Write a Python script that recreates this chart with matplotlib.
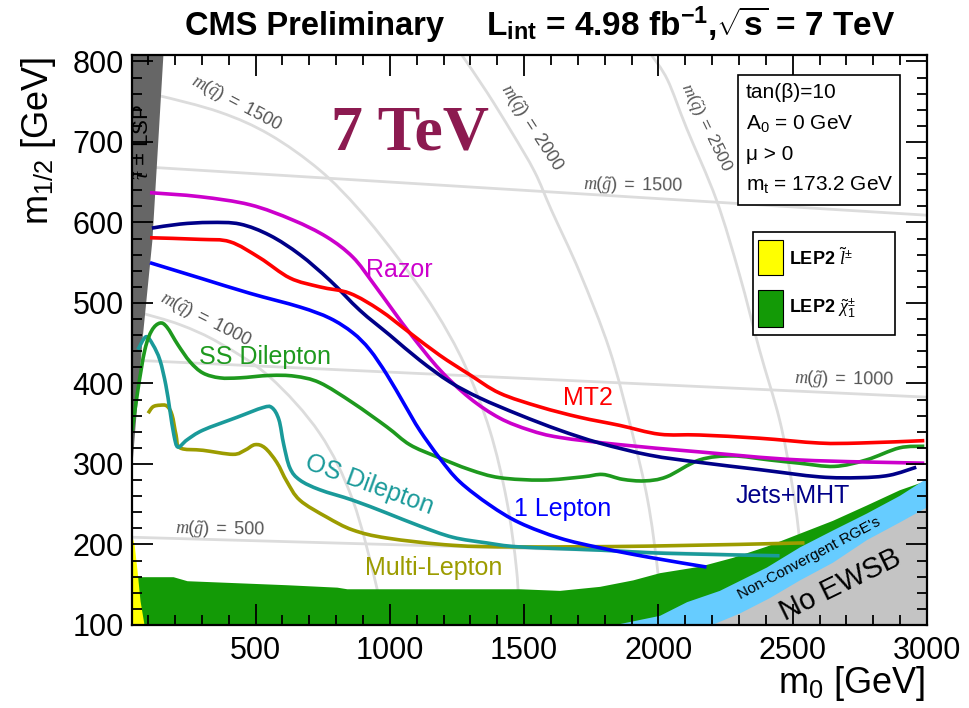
import matplotlib
matplotlib.use("Agg")
import matplotlib.pyplot as plt
from matplotlib.path import Path
from matplotlib.patches import PathPatch

plt.rcParams.update({
    'font.family': ['Liberation Sans', 'DejaVu Sans'],
    'mathtext.fontset': 'custom',
    'mathtext.rm': 'Liberation Sans',
    'mathtext.sf': 'Liberation Sans',
    'mathtext.it': 'Liberation Serif:italic',
    'mathtext.bf': 'Liberation Sans:bold',
})

# ---------------- exclusion contours (m0, m1/2) in GeV ----------------
razor_m0 = [107, 293, 479, 639, 765, 862, 937, 1011, 1085, 1186, 1297, 1409, 1521, 1632, 1855, 2153,
            2525, 2990]
razor_m12 = [637, 632, 622, 603, 582, 557, 525, 491, 458, 417, 382, 357, 342, 333, 324, 315,
             305, 301]

jets_m0 = [114, 219, 330, 442, 553, 665, 777, 888, 1000, 1111, 1223, 1335, 1483, 1632, 1781, 1967,
           2153, 2376, 2599, 2748, 2860, 2960]
jets_m12 = [593, 598, 600, 598, 584, 560, 528, 491, 460, 429, 402, 382, 361, 342, 326, 311,
            302, 293, 284, 283, 286, 296]

mt2_m0 = [107, 293, 405, 516, 628, 739, 851, 963, 1074, 1186, 1297, 1409, 1558, 1707, 1855, 2004,
          2153, 2376, 2599, 2748, 2990]
mt2_m12 = [581, 579, 576, 556, 531, 520, 512, 491, 463, 435, 411, 388, 371, 358, 348, 337,
           336, 332, 326, 326, 329]

lep1_m0 = [107, 293, 479, 665, 777, 862, 925, 989, 1056, 1111, 1186, 1260, 1372, 1483, 1632, 1781,
           1967, 2179]
lep1_m12 = [550, 531, 512, 495, 481, 463, 442, 411, 373, 342, 307, 278, 249, 227, 208, 196,
            184, 172]

ss_m0 = [40, 62, 88, 114, 144, 170, 211, 256, 304, 367, 442, 553, 646, 739, 862, 989, 1074, 1175,
         1297, 1409, 1569, 1718, 1792, 1866, 1948, 2030, 2153, 2276, 2414, 2525, 2655, 2774, 2897, 2990]
ss_m12 = [340, 392, 442, 466, 475, 470, 448, 427, 413, 407, 407, 410, 409, 401, 376, 346, 324, 309,
          293, 283, 280, 284, 287, 281, 279, 284, 305, 310, 305, 301, 297, 305, 320, 322]

os_m0 = [62, 92, 118, 144, 166, 181, 196, 211, 245, 304, 431, 527, 561, 587, 605, 628, 665, 739,
         862, 989, 1111, 1234, 1360, 1483, 1781, 2030, 2451]
os_m12 = [442, 458, 448, 429, 398, 367, 336, 321, 330, 342, 358, 370, 370, 355, 324, 295, 280, 268,
          255, 239, 223, 209, 202, 197, 193, 189, 186]

ml_m0 = [100, 118, 144, 170, 189, 204, 219, 304, 416, 460, 498, 535, 579, 617, 665, 765, 862, 989,
         1234, 1483, 1967, 2544]
ml_m12 = [363, 371, 373, 372, 361, 336, 320, 317, 312, 317, 324, 320, 302, 278, 255, 234, 218, 208,
          199, 197, 198, 202]

# ---------------- theory / LEP regions ----------------
chi_m0 = [40, 193, 245, 617, 803, 840, 1483, 1632, 1781, 1904, 2004, 2153, 2276, 2402, 2525, 2648,
          2774, 2897, 3000]
chi_m12 = [160, 160, 155, 150, 147, 145, 145, 143, 148, 156, 165, 173, 184, 198, 214, 230,
           249, 268, 280]

rge_m0 = [1829, 2004, 2105, 2227, 2402, 2525, 2648, 2774, 2897, 3000]
rge_m12 = [100, 112, 129, 143, 172, 197, 218, 239, 261, 283]

ewsb_m0 = [2194, 2302, 2413, 2525, 2648, 2774, 2897, 3000]
ewsb_m12 = [100, 115, 134, 156, 178, 206, 228, 247]

stau_m0 = [155, 114, 77, 44, 40]
stau_m12 = [808, 578, 454, 317, 300]

slep_m0 = [40, 48, 58, 70, 85]
slep_m12 = [210, 200, 170, 130, 100]

# ---------------- iso-mass guide lines ----------------
sq1000_m0 = [40, 70, 219, 367, 553, 739, 862, 951, 974]
sq1000_m12 = [491, 488, 473, 450, 408, 338, 255, 147, 100]
sq1500_m0 = [40, 133, 367, 553, 739, 888, 1037, 1167, 1279, 1372, 1435, 1472, 1483]
sq1500_m12 = [762, 758, 737, 709, 665, 615, 553, 491, 423, 342, 255, 168, 100]
sq2000_m0 = [1268, 1361, 1454, 1539, 1602, 1707, 1818, 1900, 1960, 1997, 2012]
sq2000_m12 = [808, 762, 712, 663, 615, 538, 442, 342, 255, 168, 100]
sq2500_m0 = [1974, 2034, 2105, 2216, 2302, 2376, 2451, 2495, 2525, 2544]
sq2500_m12 = [808, 777, 717, 628, 535, 442, 355, 280, 206, 100]
gl500_m0, gl500_m12 = [40, 3000], [209, 181]
gl1000_m0, gl1000_m12 = [40, 3000], [429, 383]
gl1500_m0, gl1500_m12 = [40, 3000], [670, 609]

xticks = [500, 1000, 1500, 2000, 2500, 3000]
yticks = [100, 200, 300, 400, 500, 600, 700, 800]

W, H = 969, 708
fig = plt.figure(figsize=(W / 100, H / 100), dpi=100)
ax = fig.add_axes([132 / W, 1 - 625 / H, 795 / W, 570 / H])
ax.set_xlim(40, 3000)
ax.set_ylim(100, 808)


def fx(px):
    return px / W


def fy(py):
    return 1 - py / H


def smooth_curve(xs, ys, **kw):
    """Draw a smooth (Catmull-Rom style Bezier) curve through the given points."""
    pts = list(zip(xs, ys))
    verts = [pts[0]]
    codes = [Path.MOVETO]
    n = len(pts)
    for i in range(n - 1):
        p0 = pts[i - 1] if i > 0 else pts[i]
        p1, p2 = pts[i], pts[i + 1]
        p3 = pts[i + 2] if i + 2 < n else pts[i + 1]
        c1 = (p1[0] + (p2[0] - p0[0]) / 6, p1[1] + (p2[1] - p0[1]) / 6)
        c2 = (p2[0] - (p3[0] - p1[0]) / 6, p2[1] - (p3[1] - p1[1]) / 6)
        verts += [c1, c2, p2]
        codes += [Path.CURVE4] * 3
    patch = PathPatch(Path(verts, codes), fc='none', **kw)
    ax.add_patch(patch)
    return patch


guide = dict(ec='#dcdcdc', lw=2, zorder=1, capstyle='butt')
for gx, gy in [(sq1000_m0, sq1000_m12), (sq1500_m0, sq1500_m12), (sq2000_m0, sq2000_m12),
               (sq2500_m0, sq2500_m12), (gl500_m0, gl500_m12), (gl1000_m0, gl1000_m12),
               (gl1500_m0, gl1500_m12)]:
    smooth_curve(gx, gy, **guide)

glab = dict(family='Liberation Serif', style='italic', color='#555555', fontsize=13,
            ha='center', va='center', zorder=1.5)
ax.text(427, 747, r'$\mathit{m(\tilde{q})\ =\ 1500}$', rotation=-28, **glab)
ax.text(312, 479, r'$\mathit{m(\tilde{q})\ =\ 1000}$', rotation=-27, **glab)
ax.text(1528, 717, r'$\mathit{m(\tilde{q})\ =\ 2000}$', rotation=-57, **glab)
ax.text(2175, 718, r'$\mathit{m(\tilde{q})\ =\ 2500}$', rotation=-64,
        **{**glab, 'fontsize': 12.5})
ax.text(1904, 645, r'$\mathit{m(\tilde{g})\ =\ 1500}$', rotation=-1, **glab)
ax.text(2692, 404, r'$\mathit{m(\tilde{g})\ =\ 1000}$', rotation=-1, **glab)
ax.text(367, 218, r'$\mathit{m(\tilde{g})\ =\ 500}$', rotation=-1, **glab)

# excluded / unphysical regions
ax.fill_between(chi_m0, 0, chi_m12, color='#139a06', lw=0, zorder=2)
ax.fill_between(rge_m0, 0, rge_m12, color='#66ccff', lw=0, zorder=2.1)
ax.fill_between(ewsb_m0, 0, ewsb_m12, color='#c4c4c4', lw=0, zorder=2.2)
ax.fill_betweenx(slep_m12, 0, slep_m0, color='#ffff00', lw=0, zorder=2.3)
ax.fill_betweenx(stau_m12, 0, stau_m0, color='#666666', lw=0, zorder=2.3)

lw = 2.6
smooth_curve(ml_m0, ml_m12, ec='#9c9c00', lw=lw, zorder=3)
smooth_curve(os_m0, os_m12, ec='#1a9a9a', lw=lw, zorder=3)
smooth_curve(ss_m0, ss_m12, ec='#1e991e', lw=lw, zorder=3)
smooth_curve(lep1_m0, lep1_m12, ec='#0000ff', lw=lw, zorder=3)
smooth_curve(razor_m0, razor_m12, ec='#cc00cc', lw=lw, zorder=3)
smooth_curve(jets_m0, jets_m12, ec='#000088', lw=lw, zorder=3)
smooth_curve(mt2_m0, mt2_m12, ec='#ff0000', lw=lw, zorder=3)

clab = dict(fontsize=18, ha='center', va='center', zorder=4)
ax.text(1037, 541, 'Razor', color='#cc00cc', **clab)
ax.text(1736, 382, 'MT2', color='#ff0000', **clab)
ax.text(535, 433, 'SS Dilepton', color='#1e991e', **clab)
ax.text(925, 274, 'OS Dilepton', color='#1a9a9a', rotation=-20, **clab)
ax.text(1643, 244, '1 Lepton', color='#0000ff', **clab)
ax.text(2499, 260, 'Jets+MHT', color='#000088', **clab)
ax.text(1163, 171, 'Multi-Lepton', color='#9c9c00', **clab)

ax.text(2562, 183, "Non-Convergent RGE's", fontsize=11, rotation=28, ha='center', va='center', zorder=4)
ax.text(2677, 150, 'No EWSB', fontsize=21, rotation=26, ha='center', va='center', zorder=4)
ax.text(81, 700, r'$\tilde{\tau}$ = LSP', fontsize=16, rotation=90, ha='center', va='center', zorder=4)

ax.text(1074, 709, '7 TeV', family='Liberation Serif', weight='bold', fontsize=46,
        color='#8c1a50', ha='center', va='center', zorder=4)

# axes styling
ax.set_xticks(xticks)
ax.set_yticks(yticks)
ax.set_xticks(range(100, 3001, 100), minor=True)
ax.set_yticks(range(100, 801, 20), minor=True)
ax.tick_params(which='both', direction='in', top=True, right=True, width=1.3, labelsize=22)
ax.tick_params(which='major', length=15)
ax.tick_params(which='minor', length=7)
ax.tick_params(axis='x', pad=8)
ax.tick_params(axis='y', pad=6)
for sp in ax.spines.values():
    sp.set_linewidth(1.6)
    sp.set_zorder(10)
ax.xaxis.set_zorder(10)
ax.yaxis.set_zorder(10)

fig.text(fx(925), fy(703), r'm$_0$ [GeV]', fontsize=26, ha='right', va='bottom')
fig.text(fx(38), fy(57), r'm$_{1/2}$ [GeV]', fontsize=26, rotation=90, ha='center', va='top')

fig.text(fx(185), fy(35), 'CMS Preliminary', fontsize=23.5, weight='bold', ha='left', va='baseline')
fig.text(fx(486), fy(35), r'L$_{\mathbf{int}}$ = 4.98 fb$^{\mathbf{-1}}$,$\sqrt{\mathbf{s}}$ = 7 TeV',
         fontsize=24, weight='bold', ha='left', va='baseline')

# parameter box
fig.patches.append(plt.Rectangle((fx(738), fy(205)), fx(900) - fx(738), fy(75) - fy(205),
                                 transform=fig.transFigure, fc='white', ec='black', lw=1.2, zorder=20))
for i, s in enumerate([r'tan(β)=10', r'A$_0$ = 0 GeV', r'μ > 0', r'm$_\mathrm{t}$ = 173.2 GeV']):
    fig.text(fx(746), fy(93 + 30.5 * i), s, fontsize=15, ha='left', va='center', zorder=21)

# LEP legend
fig.patches.append(plt.Rectangle((fx(753), fy(335)), fx(895) - fx(753), fy(232) - fy(335),
                                 transform=fig.transFigure, fc='white', ec='black', lw=1.2, zorder=20))
fig.patches.append(plt.Rectangle((fx(758), fy(275)), fx(783) - fx(758), fy(240) - fy(275),
                                 transform=fig.transFigure, fc='#ffff00', ec='black', lw=0.8, zorder=21))
fig.patches.append(plt.Rectangle((fx(758), fy(327)), fx(783) - fx(758), fy(290) - fy(327),
                                 transform=fig.transFigure, fc='#139a06', ec='black', lw=0.8, zorder=21))
fig.text(fx(789), fy(258), r'LEP2 $\tilde{l}^{\pm}$', fontsize=13, weight='bold', ha='left', va='center', zorder=22)
fig.text(fx(789), fy(308), r'LEP2 $\tilde{\chi}^{\pm}_{1}$', fontsize=13, weight='bold', ha='left', va='center', zorder=22)

fig.savefig('out.png', dpi=100)
